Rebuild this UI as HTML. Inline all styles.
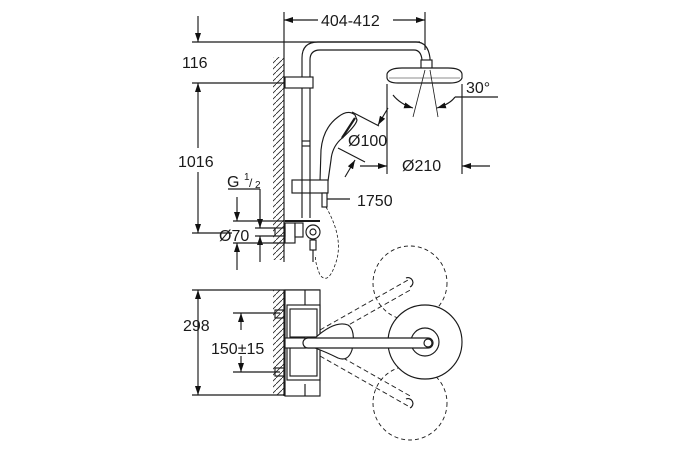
<!DOCTYPE html>
<html><head><meta charset="utf-8"><style>
html,body{margin:0;padding:0;background:#fff;width:675px;height:450px;overflow:hidden}
svg text{font-family:"Liberation Sans",sans-serif;fill:#1a1a1a}
</style></head><body>
<svg width="675" height="450" viewBox="0 0 675 450" xmlns="http://www.w3.org/2000/svg">
<defs>
<pattern id="h" width="6" height="6" patternUnits="userSpaceOnUse">
<path d="M0,6 L6,0" stroke="#222" stroke-width="0.8"/>
</pattern>
<marker id="a" markerWidth="9" markerHeight="6" refX="9" refY="3" orient="auto" markerUnits="userSpaceOnUse">
<path d="M0,0 L9,3 L0,6 z" fill="#111"/>
</marker>
</defs>
<g stroke="#1a1a1a" stroke-width="1.15" fill="none">
<rect x="273" y="57" width="11" height="203" fill="url(#h)" stroke="none"/>
<line x1="284" y1="12" x2="284" y2="262"/>
<rect x="273" y="290" width="11" height="105" fill="url(#h)" stroke="none"/>
<line x1="284" y1="290" x2="284" y2="396"/>

<line x1="425" y1="12" x2="425" y2="50"/>
<line x1="318" y1="20" x2="284" y2="20" marker-end="url(#a)"/>
<line x1="393" y1="20" x2="425" y2="20" marker-end="url(#a)"/>
<line x1="192" y1="42" x2="420" y2="42"/>
<line x1="198" y1="16" x2="198" y2="42" marker-end="url(#a)"/>
<line x1="192" y1="83" x2="285" y2="83"/>
<line x1="198" y1="148" x2="198" y2="83" marker-end="url(#a)"/>
<line x1="198" y1="172" x2="198" y2="233" marker-end="url(#a)"/>
<line x1="192" y1="233" x2="232" y2="233"/>

<path d="M302,218 L302,58 Q302,42 318,42 L416,42 Q428,42 430,58 L430,62"/>
<path d="M310,218 L310,60 Q310,50 320,50 L414,50 Q421,50 422,60 L422,62"/>
<line x1="302" y1="141" x2="310" y2="141"/>
<line x1="302" y1="146" x2="310" y2="146"/>
<rect x="285" y="77" width="28" height="11" fill="#fff"/>
<rect x="421" y="60" width="11" height="9" fill="#fff"/>
<path d="M387,74 Q389,68 402,68 L448,68 Q461,68 462,74 L462,78 Q460,83 450,83 L398,83 Q388,83 387,78 Z" fill="#fff"/>
<line x1="389" y1="78" x2="460" y2="78" stroke-width="0.6"/>
<line x1="425" y1="70" x2="413" y2="117" stroke-width="0.8"/>
<line x1="430" y1="70" x2="438" y2="117" stroke-width="0.8"/>
<path d="M393,95 Q400,104 413,108" marker-end="url(#a)"/>
<path d="M455,97 Q450,104 437,108" marker-end="url(#a)"/>
<line x1="455" y1="97" x2="498" y2="97"/>
<line x1="387" y1="84" x2="387" y2="174"/>
<line x1="462" y1="84" x2="462" y2="174"/>
<line x1="360" y1="166" x2="387" y2="166" marker-end="url(#a)"/>
<line x1="490" y1="166" x2="462" y2="166" marker-end="url(#a)"/>
<line x1="352" y1="112" x2="379" y2="126"/>
<line x1="338" y1="148" x2="365" y2="162"/>
<line x1="388" y1="108" x2="378" y2="125" marker-end="url(#a)"/>
<line x1="345" y1="177" x2="355" y2="160" marker-end="url(#a)"/>
<path d="M320,181 L321,150 Q323,128 338,117 Q348,109 355,115 L357,120 Q356,126 340,140 Q332,148 331,160 L328,181 Z" fill="#fff"/>
<line x1="342" y1="138" x2="355" y2="118" stroke-width="2.2"/>
<rect x="292" y="180" width="36" height="13" fill="#fff"/>
<line x1="302" y1="180" x2="302" y2="193"/>
<line x1="310" y1="180" x2="310" y2="193"/>
<rect x="322" y="193" width="5" height="14" fill="#fff"/>
<line x1="327" y1="199" x2="350" y2="199"/>
<path d="M326,207 Q345,240 335,265 Q328,285 320,275 Q314,260 316,255" stroke-dasharray="3,2" stroke-width="0.8"/>
<line x1="285" y1="221" x2="320" y2="221" stroke-width="2"/>
<rect x="285" y="223" width="10" height="20" fill="#fff"/>
<rect x="295" y="223" width="8" height="14" fill="#fff"/>
<circle cx="313" cy="232" r="7" fill="#fff"/>
<circle cx="313" cy="232" r="3"/>
<rect x="310" y="240" width="6" height="10"/>
<line x1="313" y1="250" x2="313" y2="262"/>
<rect x="275" y="228" width="10" height="8"/>
<line x1="228" y1="189" x2="260" y2="189"/>
<line x1="260" y1="189" x2="260" y2="228"/>
<line x1="260" y1="200" x2="260" y2="228" marker-end="url(#a)"/>
<line x1="260" y1="262" x2="260" y2="236" marker-end="url(#a)"/>
<line x1="237" y1="197" x2="237" y2="221" marker-end="url(#a)"/>
<line x1="237" y1="270" x2="237" y2="243" marker-end="url(#a)"/>
<line x1="233" y1="221" x2="285" y2="221"/>
<line x1="233" y1="243" x2="285" y2="243"/>
<line x1="255" y1="228" x2="275" y2="228"/>
<line x1="255" y1="236" x2="275" y2="236"/>

<line x1="192" y1="290" x2="320" y2="290"/>
<line x1="192" y1="395" x2="320" y2="395"/>
<line x1="198" y1="300" x2="198" y2="290" marker-end="url(#a)"/>
<line x1="198" y1="300" x2="198" y2="395" marker-end="url(#a)"/>
<line x1="233" y1="313" x2="280" y2="313"/>
<line x1="233" y1="372" x2="280" y2="372"/>
<line x1="241" y1="330" x2="241" y2="313" marker-end="url(#a)"/>
<line x1="241" y1="356" x2="241" y2="372" marker-end="url(#a)"/>
<circle cx="410" cy="283" r="37" stroke-dasharray="4,3" stroke-width="0.9"/>
<circle cx="410" cy="403" r="37" stroke-dasharray="4,3" stroke-width="0.9"/>
<line x1="320" y1="330" x2="408" y2="280" stroke-dasharray="5,3" stroke-width="0.9"/>
<line x1="322" y1="340" x2="412" y2="289" stroke-dasharray="5,3" stroke-width="0.9"/>
<line x1="322" y1="346" x2="412" y2="397" stroke-dasharray="5,3" stroke-width="0.9"/>
<line x1="320" y1="356" x2="408" y2="406" stroke-dasharray="5,3" stroke-width="0.9"/>
<path d="M406,278 a4,4 0 1 1 4,9" />
<path d="M406,399 a4,4 0 1 1 4,9" />
<rect x="285" y="290" width="35" height="106" fill="#fff"/>
<line x1="305" y1="290" x2="305" y2="305"/>
<line x1="305" y1="384" x2="305" y2="396"/>
<rect x="287" y="305" width="33" height="75" fill="#fff"/>
<rect x="290" y="309" width="27" height="28"/>
<rect x="290" y="348" width="27" height="28"/>
<rect x="275" y="310" width="9" height="8"/>
<rect x="275" y="368" width="9" height="8"/>
<path d="M315,338 Q335,320 348,325 Q356,330 352,350 Q348,362 338,358 Q326,352 315,348" fill="#fff"/>
<circle cx="425" cy="342" r="37" fill="#fff"/>
<circle cx="425" cy="342" r="14"/>
<rect x="285" y="338" width="20" height="10" fill="#fff"/>
<path d="M308,338 L428,338 A5,5 0 0 1 428,348 L308,348 A5,5 0 0 1 308,338 Z" fill="#fff"/>
<circle cx="428" cy="343" r="4"/>
</g>
<g font-size="16">
<text x="321" y="26">404-412</text>
<text x="182" y="68">116</text>
<text x="178" y="167">1016</text>
<text x="466" y="93">30°</text>
<text x="348" y="146">Ø100</text>
<text x="402" y="171">Ø210</text>
<text x="357" y="206">1750</text>
<text x="227" y="187">G</text>
<text x="219" y="241">Ø70</text>
<text x="183" y="331">298</text>
<text x="211" y="354">150±15</text>
</g>
<text x="244" y="180" font-size="10">1</text>
<text x="249" y="187" font-size="12">/</text>
<text x="255" y="188" font-size="10">2</text>
</svg>
</body></html>
